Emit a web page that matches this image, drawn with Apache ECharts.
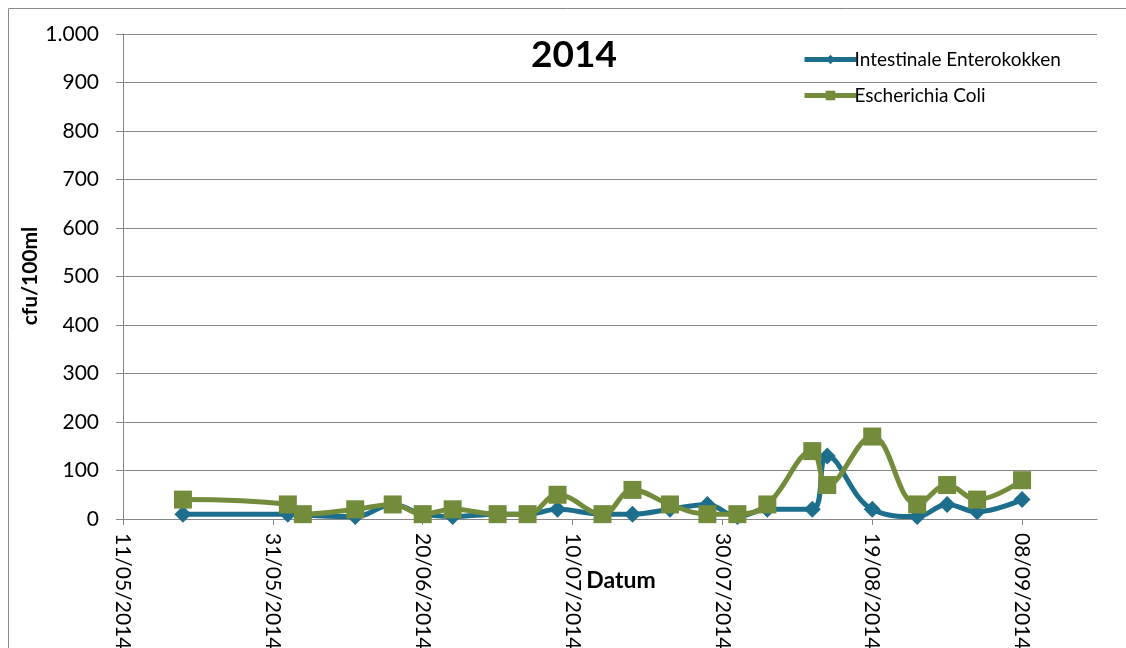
<!DOCTYPE html>
<html><head><meta charset="utf-8">
<script src="https://cdn.jsdelivr.net/npm/echarts@6/dist/echarts.min.js"></script>
<style>html,body{margin:0;padding:0;background:#fff}#c{width:1126px;height:648px}</style>
</head><body><div id="c"></div>
<script>
const dates = ['2014-05-19','2014-06-02','2014-06-04','2014-06-11','2014-06-16','2014-06-20','2014-06-24','2014-06-30','2014-07-04','2014-07-08','2014-07-14','2014-07-18','2014-07-23','2014-07-28','2014-08-01','2014-08-05','2014-08-11','2014-08-13','2014-08-19','2014-08-25','2014-08-29','2014-09-02','2014-09-08'];
const enterokokken = [10,10,8,5,30,10,5,10,10,20,10,10,20,30,5,20,20,130,20,5,30,15,40];
const ecoli = [40,30,10,20,30,10,20,10,10,50,10,60,30,10,10,30,140,70,170,30,70,40,80];
const xTickDates = ['2014-05-11','2014-05-31','2014-06-20','2014-07-10','2014-07-30','2014-08-19','2014-09-08'];
const xMinDate = '2014-05-11';
const xMaxDate = '2014-09-18';
const seriesNames = ['Intestinale Enterokokken','Escherichia Coli'];
const titleText = '2014';
const yName = 'cfu/100ml';
const xName = 'Datum';

const DAY = 86400000;
function toMs(s){const p=s.split('-').map(Number);return Date.UTC(p[0],p[1]-1,p[2]);}
function fmtDate(v){const d=new Date(v);const dd=String(d.getUTCDate()).padStart(2,'0');const mm=String(d.getUTCMonth()+1).padStart(2,'0');return dd+'/'+mm+'/'+d.getUTCFullYear();}
function fmtNum(v){return String(v).replace(/\B(?=(\d{3})+(?!\d))/g,'.');}
const FONT='Lato';
const GRID='#878787';
const BLUE='#1C6E8C', GREEN='#728C3B';
const tickMs = xTickDates.map(toMs);

const chart = echarts.init(document.getElementById('c'), null, {renderer:'canvas'});
chart.setOption({
  animation:false,
  backgroundColor:'#fff',
  textStyle:{fontFamily:FONT,color:'#000'},
  grid:{left:123,right:29,top:34,bottom:129,containLabel:false,outerBoundsMode:'none'},
  legend:{orient:'vertical',left:797,top:45,itemWidth:52,itemHeight:12,itemGap:17,data:seriesNames,
    lineStyle:{width:5},
    textStyle:{fontFamily:FONT,fontSize:19,color:'#000',padding:[0,0,0,-7]}},
  xAxis:{type:'value',min:toMs(xMinDate),max:toMs(xMaxDate),interval:20*DAY,
    axisLine:{show:true,lineStyle:{color:GRID,width:1}},
    axisTick:{show:true,length:6,inside:false,customValues:tickMs,lineStyle:{color:GRID}},
    axisLabel:{customValues:tickMs,rotate:-90,margin:14,fontFamily:FONT,fontSize:21,color:'#000',formatter:fmtDate},
    splitLine:{show:false}},
  yAxis:{type:'value',min:0,max:1000,interval:100,
    axisLine:{show:true,lineStyle:{color:GRID,width:1}},
    axisTick:{show:true,length:7,lineStyle:{color:GRID}},
    axisLabel:{margin:24,fontFamily:FONT,fontSize:21,color:'#000',formatter:fmtNum},
    splitLine:{show:true,lineStyle:{color:GRID,width:1}}},
  graphic:[
    {type:'line',shape:{x1:8.5,y1:8.5,x2:1126,y2:8.5},style:{stroke:'#8a8a8a',lineWidth:1},silent:true},
    {type:'line',shape:{x1:8.5,y1:8.5,x2:8.5,y2:648},style:{stroke:'#8a8a8a',lineWidth:1},silent:true},
    {type:'text',x:574,y:55,style:{text:titleText,textAlign:'center',textVerticalAlign:'middle',font:'bold 37px '+FONT,fill:'#000'},silent:true},
    {type:'text',x:621,y:581,style:{text:xName,textAlign:'center',textVerticalAlign:'middle',font:'bold 23px '+FONT,fill:'#000'},silent:true},
    {type:'text',rotation:Math.PI/2,x:30,y:276,style:{text:yName,textAlign:'center',textVerticalAlign:'middle',font:'bold 21px '+FONT,fill:'#000'},silent:true}
  ],
  series:[
    {name:seriesNames[0],type:'line',smooth:0.4,symbol:'diamond',symbolSize:17,
     data:dates.map((d,i)=>[toMs(d),enterokokken[i]]),
     lineStyle:{color:BLUE,width:5},itemStyle:{color:BLUE}},
    {name:seriesNames[1],type:'line',smooth:0.4,symbol:'rect',symbolSize:18,
     data:dates.map((d,i)=>[toMs(d),ecoli[i]]),
     lineStyle:{color:GREEN,width:5},itemStyle:{color:GREEN}}
  ]
});
</script></body></html>
